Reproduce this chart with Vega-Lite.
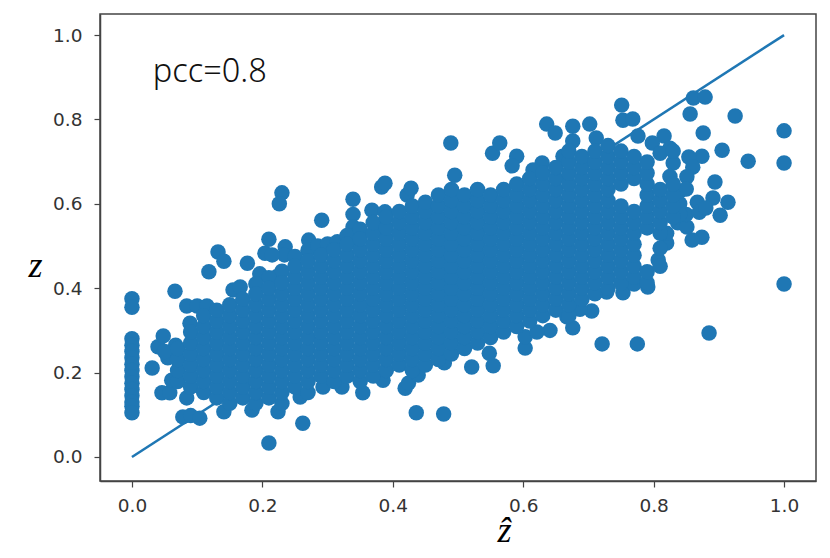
{"$schema":"https://vega.github.io/schema/vega-lite/v6.json","width":716,"height":467,"autosize":"none","padding":{"left":100,"top":14,"right":14,"bottom":77},"background":"white","config":{"view":{"stroke":"#444444","strokeWidth":1.5},"axis":{"grid":false,"domainColor":"#444444","domainWidth":1.5,"tickColor":"#444444","tickSize":6,"tickWidth":1.2,"labelColor":"#333333","labelFont":"DejaVu Sans","labelFontSize":18.5,"titleFont":"Liberation Serif","titleFontStyle":"italic","titleFontWeight":"normal","titleFontSize":36,"titleColor":"black"}},"layer":[{"data":{"values":[{"x":0,"y":0},{"x":1,"y":1}]},"mark":{"type":"line","color":"#1f77b4","strokeWidth":2.5},"encoding":{"x":{"field":"x","type":"quantitative","scale":{"domain":[-0.049,1.049],"nice":false,"zero":false},"axis":{"values":[0,0.2,0.4,0.6,0.8,1],"format":".1f","labelPadding":9,"title":"ẑ","titleX":404,"titleY":32}},"y":{"field":"y","type":"quantitative","scale":{"domain":[-0.057,1.05],"nice":false,"zero":false},"axis":{"values":[0,0.2,0.4,0.6,0.8,1],"format":".1f","labelPadding":12,"title":"z","titleAngle":0,"titleX":-65,"titleY":270}}}},{"data":{"values":[
{"x":0,"y":0.375},{"x":0,"y":0.355},{"x":0,"y":0.28},{"x":0,"y":0.265},{"x":0,"y":0.25},{"x":0,"y":0.235},{"x":0,"y":0.22},{"x":0,"y":0.205},{"x":0,"y":0.19},{"x":0,"y":0.175},{"x":0,"y":0.16},{"x":0,"y":0.145},{"x":0,"y":0.13},{"x":0,"y":0.12},{"x":0,"y":0.105},
{"x":0.21,"y":0.033},{"x":0.262,"y":0.08},{"x":0.436,"y":0.105},{"x":0.478,"y":0.102},{"x":0.419,"y":0.163},{"x":0.424,"y":0.175},
{"x":0.078,"y":0.095},{"x":0.09,"y":0.098},{"x":0.104,"y":0.092},{"x":0.141,"y":0.107},{"x":0.184,"y":0.111},{"x":0.224,"y":0.107},{"x":0.258,"y":0.142},{"x":0.293,"y":0.166},{"x":0.322,"y":0.166},{"x":0.354,"y":0.152},{"x":0.385,"y":0.182},{"x":0.439,"y":0.194},{"x":0.046,"y":0.152},{"x":0.058,"y":0.152},{"x":0.084,"y":0.14},{"x":0.061,"y":0.182},{"x":0.031,"y":0.211},{"x":0.04,"y":0.261},{"x":0.048,"y":0.287},{"x":0.084,"y":0.358},{"x":0.1,"y":0.358},{"x":0.115,"y":0.358},{"x":0.089,"y":0.317},{"x":0.067,"y":0.265},{"x":0.055,"y":0.235},{"x":0.05,"y":0.25},
{"x":0.23,"y":0.626},{"x":0.226,"y":0.6},{"x":0.291,"y":0.561},{"x":0.271,"y":0.514},{"x":0.235,"y":0.498},{"x":0.234,"y":0.479},{"x":0.21,"y":0.516},{"x":0.204,"y":0.483},{"x":0.215,"y":0.479},{"x":0.132,"y":0.486},{"x":0.141,"y":0.464},{"x":0.177,"y":0.459},{"x":0.118,"y":0.439},{"x":0.066,"y":0.393},{"x":0.196,"y":0.434},{"x":0.222,"y":0.427},{"x":0.155,"y":0.396},{"x":0.166,"y":0.403},
{"x":0.339,"y":0.611},{"x":0.339,"y":0.575},{"x":0.339,"y":0.545},{"x":0.339,"y":0.52},{"x":0.383,"y":0.64},{"x":0.388,"y":0.649},{"x":0.422,"y":0.621},{"x":0.428,"y":0.637},{"x":0.368,"y":0.585},{"x":0.388,"y":0.581},{"x":0.377,"y":0.543},
{"x":0.489,"y":0.744},{"x":0.553,"y":0.72},{"x":0.564,"y":0.744},{"x":0.636,"y":0.789},{"x":0.649,"y":0.768},{"x":0.676,"y":0.784},{"x":0.702,"y":0.789},{"x":0.676,"y":0.749},{"x":0.712,"y":0.756},{"x":0.751,"y":0.834},{"x":0.753,"y":0.798},{"x":0.768,"y":0.801},{"x":0.776,"y":0.761},{"x":0.816,"y":0.761},{"x":0.798,"y":0.744},{"x":0.861,"y":0.851},{"x":0.879,"y":0.853},{"x":0.856,"y":0.813},{"x":0.876,"y":0.768},{"x":0.925,"y":0.808},{"x":0.905,"y":0.727},{"x":0.945,"y":0.701},{"x":1,"y":0.773},{"x":1,"y":0.697},{"x":1,"y":0.41},{"x":0.885,"y":0.294},{"x":0.775,"y":0.268},{"x":0.721,"y":0.268},{"x":0.753,"y":0.389},{"x":0.791,"y":0.403},{"x":0.705,"y":0.346},{"x":0.676,"y":0.306},{"x":0.554,"y":0.216},{"x":0.548,"y":0.246},{"x":0.603,"y":0.258},{"x":0.603,"y":0.285},{"x":0.521,"y":0.213},{"x":0.479,"y":0.223},{"x":0.894,"y":0.652},{"x":0.914,"y":0.604},{"x":0.902,"y":0.573},{"x":0.891,"y":0.614},{"x":0.867,"y":0.604},{"x":0.874,"y":0.521},{"x":0.859,"y":0.514},{"x":0.837,"y":0.555},{"x":0.851,"y":0.545},{"x":0.874,"y":0.713},{"x":0.854,"y":0.711},{"x":0.86,"y":0.687},{"x":0.851,"y":0.664},{"x":0.83,"y":0.697},{"x":0.825,"y":0.732},{"x":0.495,"y":0.668},{"x":0.59,"y":0.713},{"x":0.583,"y":0.69},{"x":0.661,"y":0.713},{"x":0.629,"y":0.697},{"x":0.615,"y":0.68},{"x":0.85,"y":0.575},{"x":0.87,"y":0.58},{"x":0.88,"y":0.59},
{"x":0.27,"y":0.49},{"x":0.285,"y":0.5},{"x":0.3,"y":0.505},{"x":0.315,"y":0.51},{"x":0.33,"y":0.525},{"x":0.25,"y":0.475},{"x":0.23,"y":0.44},{"x":0.21,"y":0.425},{"x":0.19,"y":0.41},{"x":0.35,"y":0.54},{"x":0.82,"y":0.507},{"x":0.807,"y":0.467},{"x":0.81,"y":0.495},{"x":0.82,"y":0.53},{"x":0.77,"y":0.41},{"x":0.84,"y":0.6},{"x":0.84,"y":0.63},{"x":0.85,"y":0.635},{"x":0.84,"y":0.575},{"x":0.825,"y":0.665},{"x":0.728,"y":0.391},{"x":0.687,"y":0.35},{"x":0.667,"y":0.332},{"x":0.641,"y":0.3},{"x":0.621,"y":0.296},
{"x":0.07,"y":0.179},{"x":0.07,"y":0.205},{"x":0.07,"y":0.231},{"x":0.07,"y":0.257},
{"x":0.09,"y":0.166},{"x":0.09,"y":0.192},{"x":0.09,"y":0.218},{"x":0.09,"y":0.244},{"x":0.09,"y":0.27},{"x":0.09,"y":0.296},
{"x":0.11,"y":0.153},{"x":0.11,"y":0.179},{"x":0.11,"y":0.205},{"x":0.11,"y":0.231},{"x":0.11,"y":0.257},{"x":0.11,"y":0.283},{"x":0.11,"y":0.309},{"x":0.11,"y":0.335},
{"x":0.13,"y":0.14},{"x":0.13,"y":0.166},{"x":0.13,"y":0.192},{"x":0.13,"y":0.218},{"x":0.13,"y":0.244},{"x":0.13,"y":0.27},{"x":0.13,"y":0.296},{"x":0.13,"y":0.322},{"x":0.13,"y":0.348},
{"x":0.15,"y":0.127},{"x":0.15,"y":0.153},{"x":0.15,"y":0.179},{"x":0.15,"y":0.205},{"x":0.15,"y":0.231},{"x":0.15,"y":0.257},{"x":0.15,"y":0.283},{"x":0.15,"y":0.309},{"x":0.15,"y":0.335},{"x":0.15,"y":0.361},
{"x":0.17,"y":0.14},{"x":0.17,"y":0.166},{"x":0.17,"y":0.192},{"x":0.17,"y":0.218},{"x":0.17,"y":0.244},{"x":0.17,"y":0.27},{"x":0.17,"y":0.296},{"x":0.17,"y":0.322},{"x":0.17,"y":0.348},{"x":0.17,"y":0.374},
{"x":0.19,"y":0.127},{"x":0.19,"y":0.153},{"x":0.19,"y":0.179},{"x":0.19,"y":0.205},{"x":0.19,"y":0.231},{"x":0.19,"y":0.257},{"x":0.19,"y":0.283},{"x":0.19,"y":0.309},{"x":0.19,"y":0.335},{"x":0.19,"y":0.361},{"x":0.19,"y":0.387},
{"x":0.21,"y":0.14},{"x":0.21,"y":0.166},{"x":0.21,"y":0.192},{"x":0.21,"y":0.218},{"x":0.21,"y":0.244},{"x":0.21,"y":0.27},{"x":0.21,"y":0.296},{"x":0.21,"y":0.322},{"x":0.21,"y":0.348},{"x":0.21,"y":0.374},{"x":0.21,"y":0.4},
{"x":0.23,"y":0.127},{"x":0.23,"y":0.153},{"x":0.23,"y":0.179},{"x":0.23,"y":0.205},{"x":0.23,"y":0.231},{"x":0.23,"y":0.257},{"x":0.23,"y":0.283},{"x":0.23,"y":0.309},{"x":0.23,"y":0.335},{"x":0.23,"y":0.361},{"x":0.23,"y":0.387},{"x":0.23,"y":0.413},
{"x":0.25,"y":0.166},{"x":0.25,"y":0.192},{"x":0.25,"y":0.218},{"x":0.25,"y":0.244},{"x":0.25,"y":0.27},{"x":0.25,"y":0.296},{"x":0.25,"y":0.322},{"x":0.25,"y":0.348},{"x":0.25,"y":0.374},{"x":0.25,"y":0.4},{"x":0.25,"y":0.426},{"x":0.25,"y":0.452},
{"x":0.27,"y":0.153},{"x":0.27,"y":0.179},{"x":0.27,"y":0.205},{"x":0.27,"y":0.231},{"x":0.27,"y":0.257},{"x":0.27,"y":0.283},{"x":0.27,"y":0.309},{"x":0.27,"y":0.335},{"x":0.27,"y":0.361},{"x":0.27,"y":0.387},{"x":0.27,"y":0.413},{"x":0.27,"y":0.439},{"x":0.27,"y":0.465},
{"x":0.29,"y":0.192},{"x":0.29,"y":0.218},{"x":0.29,"y":0.244},{"x":0.29,"y":0.27},{"x":0.29,"y":0.296},{"x":0.29,"y":0.322},{"x":0.29,"y":0.348},{"x":0.29,"y":0.374},{"x":0.29,"y":0.4},{"x":0.29,"y":0.426},{"x":0.29,"y":0.452},{"x":0.29,"y":0.478},
{"x":0.31,"y":0.179},{"x":0.31,"y":0.205},{"x":0.31,"y":0.231},{"x":0.31,"y":0.257},{"x":0.31,"y":0.283},{"x":0.31,"y":0.309},{"x":0.31,"y":0.335},{"x":0.31,"y":0.361},{"x":0.31,"y":0.387},{"x":0.31,"y":0.413},{"x":0.31,"y":0.439},{"x":0.31,"y":0.465},{"x":0.31,"y":0.491},
{"x":0.33,"y":0.192},{"x":0.33,"y":0.218},{"x":0.33,"y":0.244},{"x":0.33,"y":0.27},{"x":0.33,"y":0.296},{"x":0.33,"y":0.322},{"x":0.33,"y":0.348},{"x":0.33,"y":0.374},{"x":0.33,"y":0.4},{"x":0.33,"y":0.426},{"x":0.33,"y":0.452},{"x":0.33,"y":0.478},{"x":0.33,"y":0.504},
{"x":0.35,"y":0.179},{"x":0.35,"y":0.205},{"x":0.35,"y":0.231},{"x":0.35,"y":0.257},{"x":0.35,"y":0.283},{"x":0.35,"y":0.309},{"x":0.35,"y":0.335},{"x":0.35,"y":0.361},{"x":0.35,"y":0.387},{"x":0.35,"y":0.413},{"x":0.35,"y":0.439},{"x":0.35,"y":0.465},{"x":0.35,"y":0.491},{"x":0.35,"y":0.517},
{"x":0.37,"y":0.192},{"x":0.37,"y":0.218},{"x":0.37,"y":0.244},{"x":0.37,"y":0.27},{"x":0.37,"y":0.296},{"x":0.37,"y":0.322},{"x":0.37,"y":0.348},{"x":0.37,"y":0.374},{"x":0.37,"y":0.4},{"x":0.37,"y":0.426},{"x":0.37,"y":0.452},{"x":0.37,"y":0.478},{"x":0.37,"y":0.504},{"x":0.37,"y":0.53},{"x":0.37,"y":0.556},
{"x":0.39,"y":0.205},{"x":0.39,"y":0.231},{"x":0.39,"y":0.257},{"x":0.39,"y":0.283},{"x":0.39,"y":0.309},{"x":0.39,"y":0.335},{"x":0.39,"y":0.361},{"x":0.39,"y":0.387},{"x":0.39,"y":0.413},{"x":0.39,"y":0.439},{"x":0.39,"y":0.465},{"x":0.39,"y":0.491},{"x":0.39,"y":0.517},{"x":0.39,"y":0.543},{"x":0.39,"y":0.569},
{"x":0.41,"y":0.218},{"x":0.41,"y":0.244},{"x":0.41,"y":0.27},{"x":0.41,"y":0.296},{"x":0.41,"y":0.322},{"x":0.41,"y":0.348},{"x":0.41,"y":0.374},{"x":0.41,"y":0.4},{"x":0.41,"y":0.426},{"x":0.41,"y":0.452},{"x":0.41,"y":0.478},{"x":0.41,"y":0.504},{"x":0.41,"y":0.53},{"x":0.41,"y":0.556},{"x":0.41,"y":0.582},
{"x":0.43,"y":0.205},{"x":0.43,"y":0.231},{"x":0.43,"y":0.257},{"x":0.43,"y":0.283},{"x":0.43,"y":0.309},{"x":0.43,"y":0.335},{"x":0.43,"y":0.361},{"x":0.43,"y":0.387},{"x":0.43,"y":0.413},{"x":0.43,"y":0.439},{"x":0.43,"y":0.465},{"x":0.43,"y":0.491},{"x":0.43,"y":0.517},{"x":0.43,"y":0.543},{"x":0.43,"y":0.569},{"x":0.43,"y":0.595},
{"x":0.45,"y":0.218},{"x":0.45,"y":0.244},{"x":0.45,"y":0.27},{"x":0.45,"y":0.296},{"x":0.45,"y":0.322},{"x":0.45,"y":0.348},{"x":0.45,"y":0.374},{"x":0.45,"y":0.4},{"x":0.45,"y":0.426},{"x":0.45,"y":0.452},{"x":0.45,"y":0.478},{"x":0.45,"y":0.504},{"x":0.45,"y":0.53},{"x":0.45,"y":0.556},{"x":0.45,"y":0.582},{"x":0.45,"y":0.604},
{"x":0.47,"y":0.231},{"x":0.47,"y":0.257},{"x":0.47,"y":0.283},{"x":0.47,"y":0.309},{"x":0.47,"y":0.335},{"x":0.47,"y":0.361},{"x":0.47,"y":0.387},{"x":0.47,"y":0.413},{"x":0.47,"y":0.439},{"x":0.47,"y":0.465},{"x":0.47,"y":0.491},{"x":0.47,"y":0.517},{"x":0.47,"y":0.543},{"x":0.47,"y":0.569},{"x":0.47,"y":0.595},{"x":0.47,"y":0.621},
{"x":0.49,"y":0.244},{"x":0.49,"y":0.27},{"x":0.49,"y":0.296},{"x":0.49,"y":0.322},{"x":0.49,"y":0.348},{"x":0.49,"y":0.374},{"x":0.49,"y":0.4},{"x":0.49,"y":0.426},{"x":0.49,"y":0.452},{"x":0.49,"y":0.478},{"x":0.49,"y":0.504},{"x":0.49,"y":0.53},{"x":0.49,"y":0.556},{"x":0.49,"y":0.582},{"x":0.49,"y":0.608},{"x":0.49,"y":0.634},
{"x":0.51,"y":0.257},{"x":0.51,"y":0.283},{"x":0.51,"y":0.309},{"x":0.51,"y":0.335},{"x":0.51,"y":0.361},{"x":0.51,"y":0.387},{"x":0.51,"y":0.413},{"x":0.51,"y":0.439},{"x":0.51,"y":0.465},{"x":0.51,"y":0.491},{"x":0.51,"y":0.517},{"x":0.51,"y":0.543},{"x":0.51,"y":0.569},{"x":0.51,"y":0.595},{"x":0.51,"y":0.621},
{"x":0.53,"y":0.27},{"x":0.53,"y":0.296},{"x":0.53,"y":0.322},{"x":0.53,"y":0.348},{"x":0.53,"y":0.374},{"x":0.53,"y":0.4},{"x":0.53,"y":0.426},{"x":0.53,"y":0.452},{"x":0.53,"y":0.478},{"x":0.53,"y":0.504},{"x":0.53,"y":0.53},{"x":0.53,"y":0.556},{"x":0.53,"y":0.582},{"x":0.53,"y":0.608},{"x":0.53,"y":0.634},
{"x":0.55,"y":0.283},{"x":0.55,"y":0.309},{"x":0.55,"y":0.335},{"x":0.55,"y":0.361},{"x":0.55,"y":0.387},{"x":0.55,"y":0.413},{"x":0.55,"y":0.439},{"x":0.55,"y":0.465},{"x":0.55,"y":0.491},{"x":0.55,"y":0.517},{"x":0.55,"y":0.543},{"x":0.55,"y":0.569},{"x":0.55,"y":0.595},{"x":0.55,"y":0.621},
{"x":0.57,"y":0.296},{"x":0.57,"y":0.322},{"x":0.57,"y":0.348},{"x":0.57,"y":0.374},{"x":0.57,"y":0.4},{"x":0.57,"y":0.426},{"x":0.57,"y":0.452},{"x":0.57,"y":0.478},{"x":0.57,"y":0.504},{"x":0.57,"y":0.53},{"x":0.57,"y":0.556},{"x":0.57,"y":0.582},{"x":0.57,"y":0.608},{"x":0.57,"y":0.634},
{"x":0.59,"y":0.309},{"x":0.59,"y":0.335},{"x":0.59,"y":0.361},{"x":0.59,"y":0.387},{"x":0.59,"y":0.413},{"x":0.59,"y":0.439},{"x":0.59,"y":0.465},{"x":0.59,"y":0.491},{"x":0.59,"y":0.517},{"x":0.59,"y":0.543},{"x":0.59,"y":0.569},{"x":0.59,"y":0.595},{"x":0.59,"y":0.621},{"x":0.59,"y":0.647},
{"x":0.61,"y":0.322},{"x":0.61,"y":0.348},{"x":0.61,"y":0.374},{"x":0.61,"y":0.4},{"x":0.61,"y":0.426},{"x":0.61,"y":0.452},{"x":0.61,"y":0.478},{"x":0.61,"y":0.504},{"x":0.61,"y":0.53},{"x":0.61,"y":0.556},{"x":0.61,"y":0.582},{"x":0.61,"y":0.608},{"x":0.61,"y":0.634},{"x":0.61,"y":0.66},
{"x":0.63,"y":0.335},{"x":0.63,"y":0.361},{"x":0.63,"y":0.387},{"x":0.63,"y":0.413},{"x":0.63,"y":0.439},{"x":0.63,"y":0.465},{"x":0.63,"y":0.491},{"x":0.63,"y":0.517},{"x":0.63,"y":0.543},{"x":0.63,"y":0.569},{"x":0.63,"y":0.595},{"x":0.63,"y":0.621},{"x":0.63,"y":0.647},{"x":0.63,"y":0.673},
{"x":0.65,"y":0.348},{"x":0.65,"y":0.374},{"x":0.65,"y":0.4},{"x":0.65,"y":0.426},{"x":0.65,"y":0.452},{"x":0.65,"y":0.478},{"x":0.65,"y":0.504},{"x":0.65,"y":0.53},{"x":0.65,"y":0.556},{"x":0.65,"y":0.582},{"x":0.65,"y":0.608},{"x":0.65,"y":0.634},{"x":0.65,"y":0.66},{"x":0.65,"y":0.686},
{"x":0.67,"y":0.335},{"x":0.67,"y":0.361},{"x":0.67,"y":0.387},{"x":0.67,"y":0.413},{"x":0.67,"y":0.439},{"x":0.67,"y":0.465},{"x":0.67,"y":0.491},{"x":0.67,"y":0.517},{"x":0.67,"y":0.543},{"x":0.67,"y":0.569},{"x":0.67,"y":0.595},{"x":0.67,"y":0.621},{"x":0.67,"y":0.647},{"x":0.67,"y":0.673},{"x":0.67,"y":0.699},{"x":0.67,"y":0.725},
{"x":0.69,"y":0.374},{"x":0.69,"y":0.4},{"x":0.69,"y":0.426},{"x":0.69,"y":0.452},{"x":0.69,"y":0.478},{"x":0.69,"y":0.504},{"x":0.69,"y":0.53},{"x":0.69,"y":0.556},{"x":0.69,"y":0.582},{"x":0.69,"y":0.608},{"x":0.69,"y":0.634},{"x":0.69,"y":0.66},{"x":0.69,"y":0.686},{"x":0.69,"y":0.712},
{"x":0.71,"y":0.387},{"x":0.71,"y":0.413},{"x":0.71,"y":0.439},{"x":0.71,"y":0.465},{"x":0.71,"y":0.491},{"x":0.71,"y":0.517},{"x":0.71,"y":0.543},{"x":0.71,"y":0.569},{"x":0.71,"y":0.595},{"x":0.71,"y":0.621},{"x":0.71,"y":0.647},{"x":0.71,"y":0.673},{"x":0.71,"y":0.699},{"x":0.71,"y":0.725},
{"x":0.73,"y":0.4},{"x":0.73,"y":0.426},{"x":0.73,"y":0.452},{"x":0.73,"y":0.478},{"x":0.73,"y":0.504},{"x":0.73,"y":0.53},{"x":0.73,"y":0.556},{"x":0.73,"y":0.582},{"x":0.73,"y":0.608},{"x":0.73,"y":0.634},{"x":0.73,"y":0.66},{"x":0.73,"y":0.686},{"x":0.73,"y":0.712},{"x":0.73,"y":0.738},
{"x":0.75,"y":0.413},{"x":0.75,"y":0.439},{"x":0.75,"y":0.465},{"x":0.75,"y":0.491},{"x":0.75,"y":0.517},{"x":0.75,"y":0.543},{"x":0.75,"y":0.569},{"x":0.75,"y":0.595},{"x":0.75,"y":0.647},{"x":0.75,"y":0.673},{"x":0.75,"y":0.699},{"x":0.75,"y":0.725},
{"x":0.77,"y":0.426},{"x":0.77,"y":0.452},{"x":0.77,"y":0.478},{"x":0.77,"y":0.504},{"x":0.77,"y":0.53},{"x":0.77,"y":0.556},{"x":0.77,"y":0.582},{"x":0.77,"y":0.66},{"x":0.77,"y":0.686},{"x":0.77,"y":0.712},
{"x":0.79,"y":0.413},{"x":0.79,"y":0.439},{"x":0.79,"y":0.543},{"x":0.79,"y":0.569},{"x":0.79,"y":0.595},{"x":0.79,"y":0.621},{"x":0.79,"y":0.647},{"x":0.79,"y":0.673},{"x":0.79,"y":0.699},
{"x":0.81,"y":0.452},{"x":0.81,"y":0.53},{"x":0.81,"y":0.556},{"x":0.81,"y":0.582},{"x":0.81,"y":0.608},{"x":0.81,"y":0.634},{"x":0.81,"y":0.72},
{"x":0.83,"y":0.569},{"x":0.83,"y":0.595},{"x":0.83,"y":0.621},{"x":0.83,"y":0.647},{"x":0.83,"y":0.725}
]},"mark":{"type":"point","filled":true,"opacity":1,"color":"#1f77b4","size":240},"encoding":{"x":{"field":"x","type":"quantitative"},"y":{"field":"y","type":"quantitative"}}},{"data":{"values":[{"x":0.032,"y":0.912,"label":"pcc=0.8"}]},"mark":{"type":"text","align":"left","baseline":"middle","font":"Noto Sans","fontSize":32.5,"fontWeight":300,"color":"#111111"},"encoding":{"x":{"field":"x","type":"quantitative"},"y":{"field":"y","type":"quantitative"},"text":{"field":"label"}}}]}
